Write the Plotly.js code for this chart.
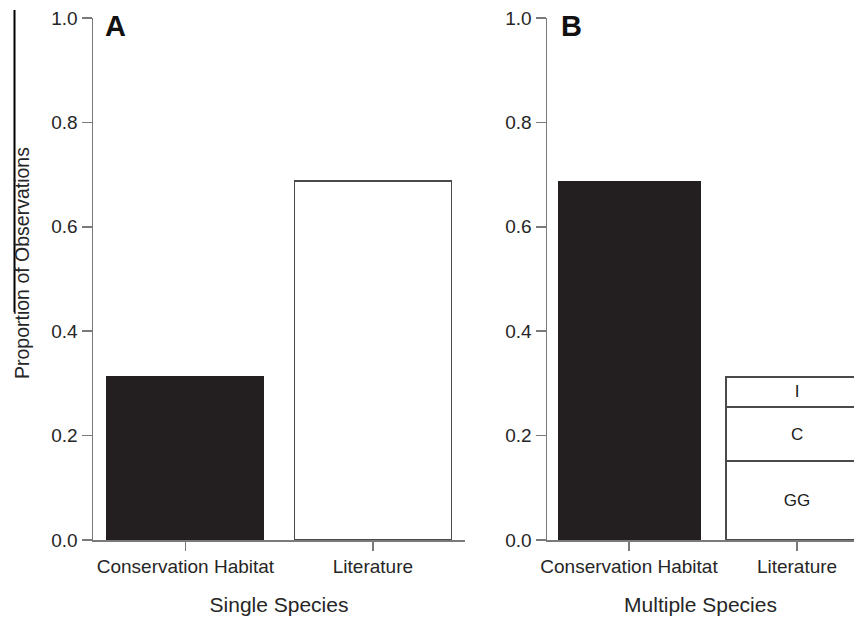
<!DOCTYPE html>
<html>
<head>
<meta charset="utf-8">
<script src="https://cdn.plot.ly/plotly-3.0.1.min.js"></script>
<style>html,body{margin:0;padding:0;background:#fff;}#chart{width:854px;height:618px;}</style>
</head>
<body>
<div id="chart"></div>
<script>
const categories = ['Conservation Habitat', 'Literature'];
const singleHabitat = [0.3125];
const singleLiterature = [0.6875];
const multiHabitat = [0.6875];
const multiLitSegments = ['GG', 'C', 'I'];
const multiLitValues = [0.151, 0.104, 0.0575];
const yTicks = [0, 0.2, 0.4, 0.6, 0.8, 1.0];
const yTickText = ['0.0', '0.2', '0.4', '0.6', '0.8', '1.0'];

const BLACK = '#231f20';
const EDGE = '#4a4a4a';
const AXIS = '#7a7a7a';
const TXT = '#262626';
const FONT = 'Liberation Sans, Arial, Helvetica, sans-serif';

const traces = [
  {type: 'bar', x: [categories[0]], y: singleHabitat, xaxis: 'x', yaxis: 'y', width: 0.837,
   marker: {color: BLACK, line: {color: BLACK, width: 1}}, hoverinfo: 'skip'},
  {type: 'bar', x: [categories[1]], y: singleLiterature, xaxis: 'x', yaxis: 'y', width: 0.837,
   marker: {color: '#ffffff', line: {color: EDGE, width: 1.5}}, hoverinfo: 'skip'},
  {type: 'bar', x: [categories[0]], y: multiHabitat, xaxis: 'x2', yaxis: 'y2', width: 0.845,
   marker: {color: BLACK, line: {color: BLACK, width: 1}}, hoverinfo: 'skip'}
];
multiLitSegments.forEach((seg, i) => {
  traces.push({type: 'bar', x: [categories[1]], y: [multiLitValues[i]], xaxis: 'x2', yaxis: 'y2', width: 0.845,
    text: [seg], textposition: 'inside', insidetextanchor: 'middle', constraintext: 'none',
    textfont: {size: 17, color: '#1a1a1a', family: FONT},
    marker: {color: '#ffffff', line: {color: EDGE, width: 1.5}}, hoverinfo: 'skip'});
});

function xax(domain, range, title) {
  return {domain: domain, type: 'category', categoryorder: 'array', categoryarray: categories,
    range: range, showline: true, linecolor: AXIS, linewidth: 1.5, ticks: 'outside', ticklen: 9,
    tickwidth: 1.5, tickcolor: AXIS, tickfont: {size: 19, color: TXT, family: FONT},
    showgrid: false, zeroline: false, fixedrange: true,
    title: {text: title, font: {size: 21, color: TXT, family: FONT}, standoff: 21}};
}
function yax(anchor) {
  return {anchor: anchor, range: [0, 1], tickvals: yTicks, ticktext: yTickText,
    showline: true, linecolor: AXIS, linewidth: 1.5, ticks: 'outside', ticklen: 10, tickwidth: 1.5,
    tickcolor: AXIS, tickfont: {size: 19, color: TXT, family: FONT}, showgrid: false, zeroline: false,
    fixedrange: true};
}

const layout = {
  width: 854, height: 618,
  margin: {l: 0, r: 0, t: 18, b: 78, pad: 0},
  paper_bgcolor: '#ffffff', plot_bgcolor: '#ffffff',
  barmode: 'stack', showlegend: false,
  font: {family: FONT, color: TXT},
  xaxis: xax([93/854, 465/854], [-0.493, 1.491], 'Single Species'),
  yaxis: yax('x'),
  xaxis2: xax([547/854, 1], [-0.488, 1.339], 'Multiple Species'),
  yaxis2: yax('x2'),
  annotations: [
    {text: 'Proportion of Observations', xref: 'paper', yref: 'paper', x: 22/854, y: (540-263)/522,
     textangle: -90, showarrow: false, font: {size: 19.5, color: TXT, family: FONT}, xanchor: 'center', yanchor: 'middle'},
    {text: '<b>A</b>', xref: 'paper', yref: 'paper', x: 115/854, y: (540-26)/522, showarrow: false,
     font: {size: 29, color: '#111', family: FONT}, xanchor: 'center', yanchor: 'middle'},
    {text: '<b>B</b>', xref: 'paper', yref: 'paper', x: 571/854, y: (540-26)/522, showarrow: false,
     font: {size: 29, color: '#111', family: FONT}, xanchor: 'center', yanchor: 'middle'}
  ],
  shapes: [
    {type: 'line', xref: 'paper', yref: 'paper', x0: 14.5/854, x1: 14.5/854, y0: (540-10)/522, y1: (540-312)/522,
     line: {color: '#000', width: 2}}
  ]
};

Plotly.newPlot('chart', traces, layout, {staticPlot: true, displayModeBar: false});
</script>
</body>
</html>
